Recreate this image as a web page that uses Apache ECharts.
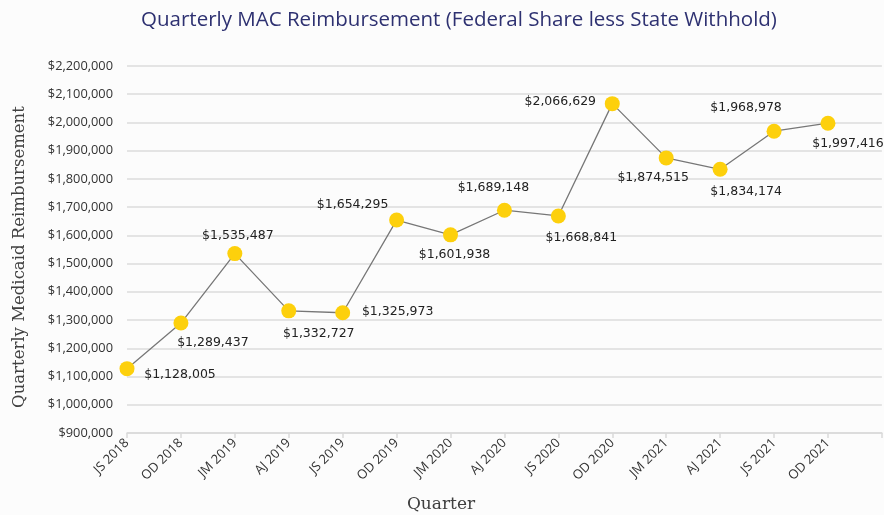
<!DOCTYPE html>
<html>
<head>
<meta charset="utf-8">
<script src="https://cdn.jsdelivr.net/npm/echarts@6/dist/echarts.min.js"></script>
<style>
  html, body { margin: 0; padding: 0; background: #fcfcfc; }
  #chart { width: 884px; height: 515px; }
</style>
</head>
<body>
<div id="chart"></div>
<script>
// quarters (last slot left empty, the axis runs on past OD 2021)
const quarters = ['JS 2018', 'OD 2018', 'JM 2019', 'AJ 2019', 'JS 2019', 'OD 2019', 'JM 2020',
  'AJ 2020', 'JS 2020', 'OD 2020', 'JM 2021', 'AJ 2021', 'JS 2021', 'OD 2021', '']

// federal share less state withhold, per quarter
const reimbursement = [1128005, 1289437, 1535487, 1332727, 1325973, 1654295, 1601938,
  1689148, 1668841, 2066629, 1874515, 1834174, 1968978, 1997416]

// where each value label sits relative to its point (px)
const labelOffsets = [[53, 6], [32, 20], [3, -18], [30, 23], [55, -1], [-44, -15], [4, 20],
  [-11, -22], [23, 22], [-52, -2], [-13, 20], [26, 22], [-28, -23], [20, 21]]

const money = v => '$' + Number(v).toLocaleString('en-US')

const chart = echarts.init(document.getElementById('chart'))

chart.setOption({
  backgroundColor: '#fcfcfc',
  animation: false,
  title: {
    text: 'Quarterly MAC Reimbursement (Federal Share less State Withhold)',
    left: 454,
    top: 5,
    textAlign: 'center',
    textStyle: {
      fontFamily: 'Open Sans',
      fontSize: 20.5,
      fontWeight: 'normal',
      color: '#2e3171'
    }
  },
  grid: { left: 127, right: 0, top: 66, bottom: 82 },
  xAxis: {
    type: 'category',
    data: quarters,
    boundaryGap: false,
    axisLine: { lineStyle: { color: '#d9d9d9', width: 1.5 } },
    axisTick: { show: true, length: 5, lineStyle: { color: '#d9d9d9', width: 1.5 } },
    axisLabel: {
      rotate: 45,
      interval: 0,
      margin: 8,
      fontFamily: 'Open Sans',
      fontSize: 13,
      color: '#333'
    }
  },
  yAxis: {
    type: 'value',
    min: 900000,
    max: 2200000,
    interval: 100000,
    axisLine: { show: false },
    axisTick: { show: false },
    splitLine: { lineStyle: { color: '#dcdcdc', width: 1.5 } },
    axisLabel: {
      formatter: money,
      margin: 14,
      fontFamily: 'Open Sans',
      fontSize: 12.8,
      color: '#333'
    }
  },
  graphic: [
    {
      type: 'text',
      x: 20,
      y: 257,
      rotation: Math.PI / 2,
      style: {
        text: 'Quarterly Medicaid Reimbursement',
        font: '16.5px "DejaVu Serif"',
        fill: '#404040',
        textAlign: 'center',
        textVerticalAlign: 'middle'
      }
    },
    {
      type: 'text',
      x: 441,
      y: 505,
      style: {
        text: 'Quarter',
        font: '17px "DejaVu Serif"',
        fill: '#404040',
        textAlign: 'center',
        textVerticalAlign: 'middle'
      }
    }
  ],
  series: [
    {
      type: 'line',
      data: reimbursement.map((v, i) => ({
        value: v,
        label: { offset: labelOffsets[i] }
      })),
      symbol: 'circle',
      symbolSize: 15,
      itemStyle: { color: '#fdd00c' },
      lineStyle: { color: '#777', width: 1.3 },
      label: {
        show: true,
        position: 'inside',
        formatter: p => money(p.value),
        fontFamily: 'DejaVu Sans',
        fontSize: 12.5,
        color: '#222'
      }
    }
  ]
})
</script>
</body>
</html>
